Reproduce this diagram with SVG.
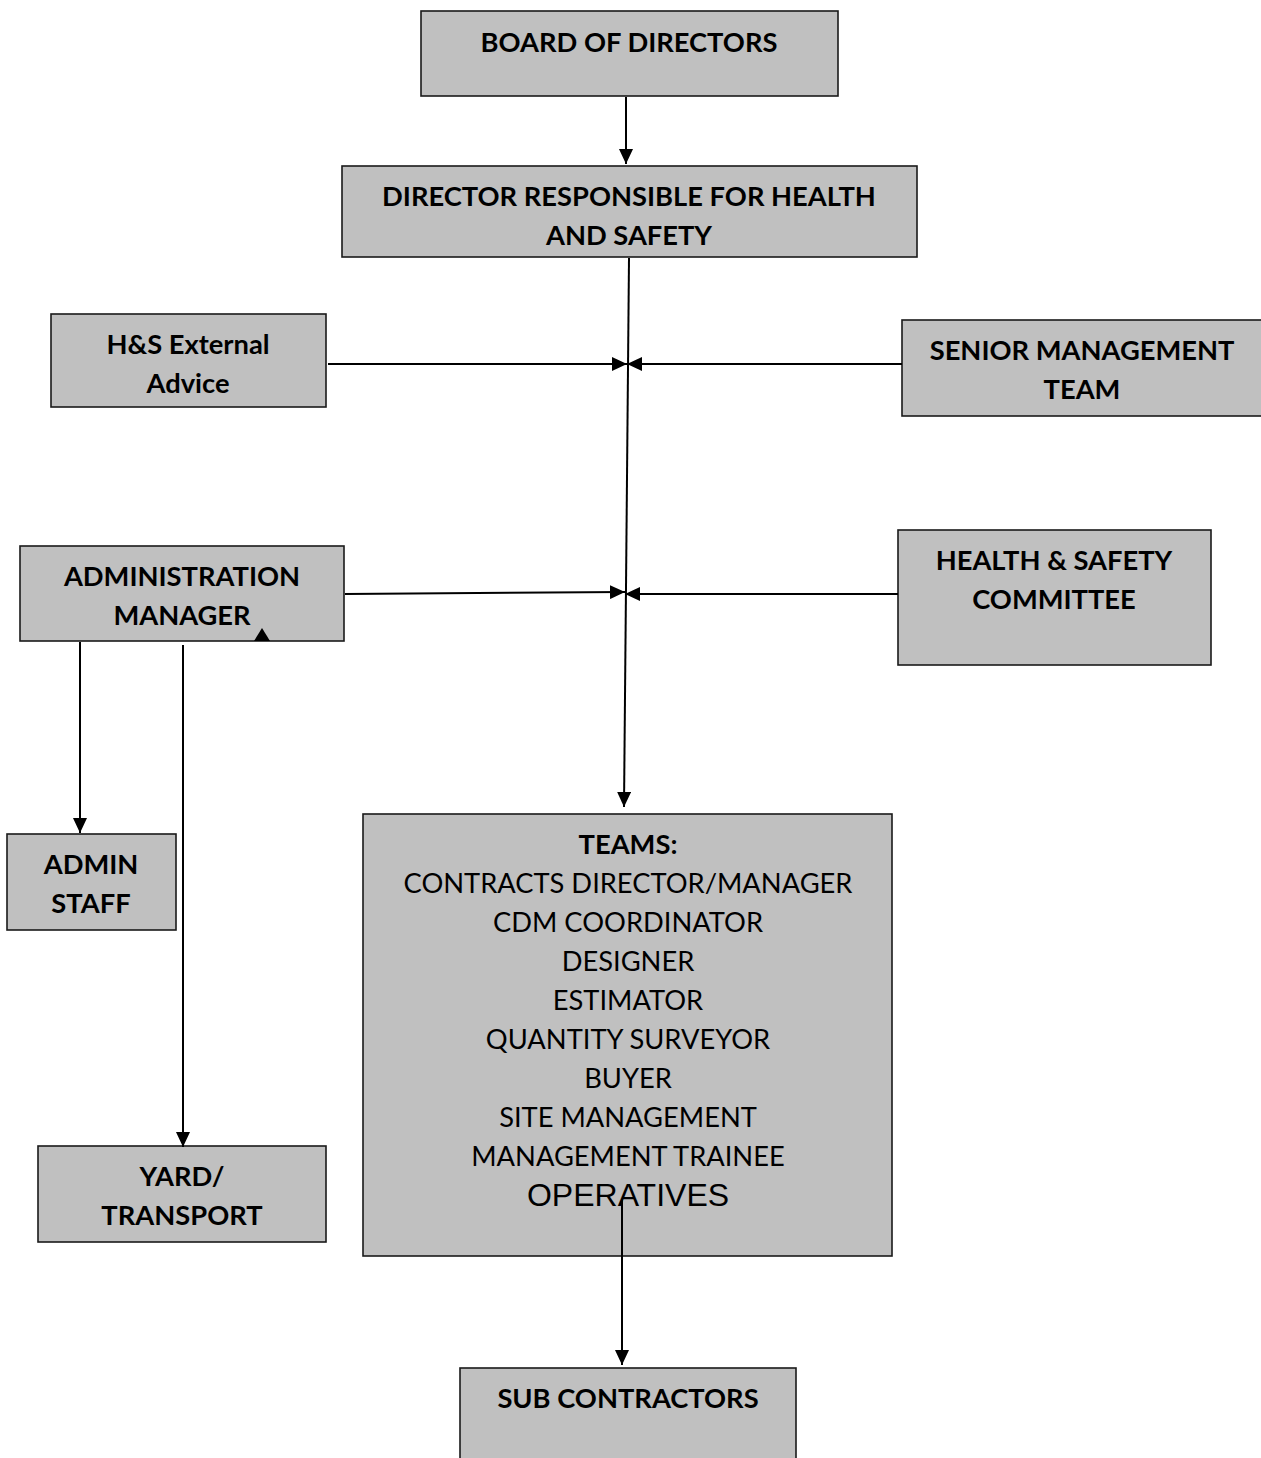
<svg xmlns="http://www.w3.org/2000/svg" width="1261" height="1458" viewBox="0 0 1261 1458">
<defs>
<style>
.box{fill:#c0c0c0;stroke:#1a1a1a;stroke-width:1.6}
.b{font-family:Lato,"Liberation Sans",sans-serif;font-weight:bold;font-size:27.3px;fill:#000;text-anchor:middle}
.r{font-family:Lato,"Liberation Sans",sans-serif;font-size:27.3px;fill:#000;text-anchor:middle}
.a{font-family:"Liberation Sans",Arial,sans-serif;font-size:32px;fill:#000;text-anchor:middle}
.ln{stroke:#000;stroke-width:2;fill:none}
</style>
<marker id="ah" viewBox="0 0 15 14" refX="15" refY="7" markerWidth="15" markerHeight="14" markerUnits="userSpaceOnUse" orient="auto">
<path d="M0,0 L15,7 L0,14 Z" fill="#000"/>
</marker>
</defs>
<rect width="1261" height="1458" fill="#fff"/>
<g id="board">
<rect class="box" x="421" y="11" width="417" height="85"/>
<text class="b" x="629" y="52">BOARD OF DIRECTORS</text>
</g>
<g id="director">
<rect class="box" x="342" y="166" width="575" height="91"/>
<text class="b" x="629" y="206">DIRECTOR RESPONSIBLE FOR HEALTH</text>
<text class="b" x="629" y="245">AND SAFETY</text>
</g>
<g id="external">
<rect class="box" x="51" y="314" width="275" height="93"/>
<text class="b" x="188" y="354">H&amp;S External</text>
<text class="b" x="188" y="393">Advice</text>
</g>
<g id="senior">
<rect class="box" x="902" y="320" width="362" height="96"/>
<text class="b" x="1082" y="360">SENIOR MANAGEMENT</text>
<text class="b" x="1082" y="399">TEAM</text>
</g>
<g id="adminmanager">
<rect class="box" x="20" y="546" width="324" height="95"/>
<text class="b" x="182" y="586">ADMINISTRATION</text>
<text class="b" x="182" y="625">MANAGER</text>
</g>
<g id="committee">
<rect class="box" x="898" y="530" width="313" height="135"/>
<text class="b" x="1054" y="570">HEALTH &amp; SAFETY</text>
<text class="b" x="1054" y="609">COMMITTEE</text>
</g>
<g id="adminstaff">
<rect class="box" x="7" y="834" width="169" height="96"/>
<text class="b" x="91" y="874">ADMIN</text>
<text class="b" x="91" y="913">STAFF</text>
</g>
<g id="yard">
<rect class="box" x="38" y="1146" width="288" height="96"/>
<text class="b" x="182" y="1186">YARD/</text>
<text class="b" x="182" y="1225">TRANSPORT</text>
</g>
<g id="teams">
<rect class="box" x="363" y="814" width="529" height="442"/>
<text class="b" x="628" y="854">TEAMS:</text>
<text class="r" x="628" y="893">CONTRACTS DIRECTOR/MANAGER</text>
<text class="r" x="628" y="932">CDM COORDINATOR</text>
<text class="r" x="628" y="971">DESIGNER</text>
<text class="r" x="628" y="1010">ESTIMATOR</text>
<text class="r" x="628" y="1049">QUANTITY SURVEYOR</text>
<text class="r" x="628" y="1088">BUYER</text>
<text class="r" x="628" y="1127">SITE MANAGEMENT</text>
<text class="r" x="628" y="1166">MANAGEMENT TRAINEE</text>
<text class="a" x="628" y="1206">OPERATIVES</text>
</g>
<g id="subcontractors">
<rect class="box" x="460" y="1368" width="336" height="95"/>
<text class="b" x="628" y="1408">SUB CONTRACTORS</text>
</g>
<g id="connectors">
<line class="ln" x1="626" y1="97" x2="626" y2="164" marker-end="url(#ah)"/>
<line class="ln" x1="629" y1="258" x2="624" y2="807" marker-end="url(#ah)"/>
<line class="ln" x1="328" y1="364" x2="627" y2="364" marker-end="url(#ah)"/>
<line class="ln" x1="902" y1="364" x2="627" y2="364" marker-end="url(#ah)"/>
<line class="ln" x1="345" y1="594" x2="625" y2="592" marker-end="url(#ah)"/>
<line class="ln" x1="898" y1="594" x2="625" y2="594" marker-end="url(#ah)"/>
<line class="ln" x1="80" y1="642" x2="80" y2="833" marker-end="url(#ah)"/>
<line class="ln" x1="183" y1="645" x2="183" y2="1147" marker-end="url(#ah)"/>
<line class="ln" x1="622" y1="1200" x2="622" y2="1365" marker-end="url(#ah)"/>
<path d="M254,641 L262,628 L270,641 Z" fill="#000"/>
</g>
</svg>
